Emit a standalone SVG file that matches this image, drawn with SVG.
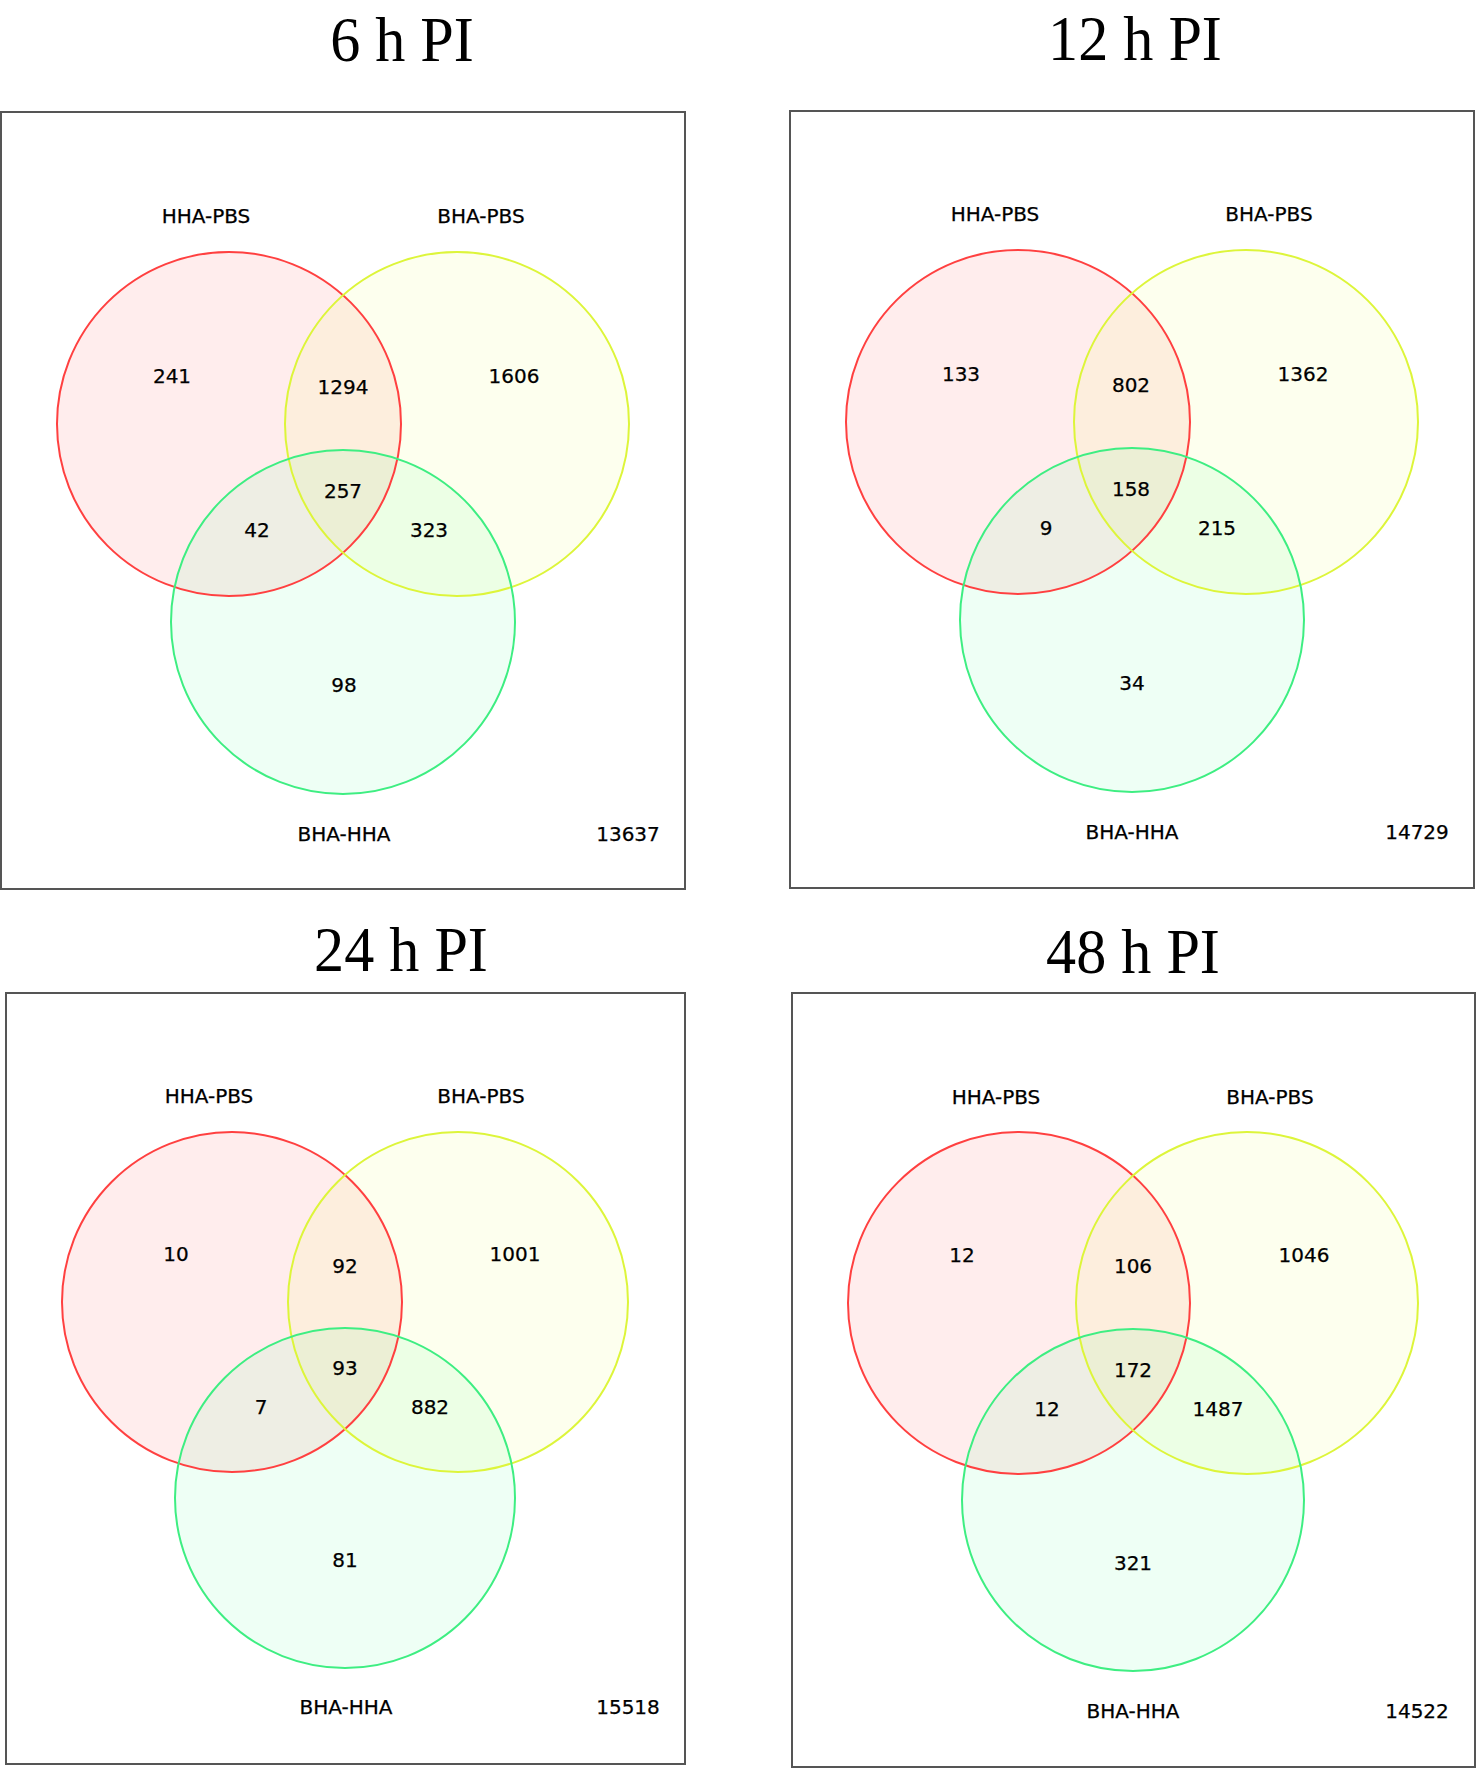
<svg xmlns="http://www.w3.org/2000/svg" width="1476" height="1770" viewBox="0 0 1476 1770">
<style>
.title{font-family:"Liberation Serif","Times New Roman",serif;font-size:64px;fill:#000;text-anchor:middle}
.t{font-family:"DejaVu Sans",Verdana,sans-serif;font-size:20px;fill:#000;stroke:#000;stroke-width:0.25;text-anchor:middle}
.box{fill:#fff;stroke:#555;stroke-width:2}
.fr{fill:#ff0000;fill-opacity:0.07;stroke:none}
.fy{fill:#dcff00;fill-opacity:0.065;stroke:none}
.fg{fill:#00ff66;fill-opacity:0.065;stroke:none}
.sr{fill:none;stroke:#ff4040;stroke-width:2}
.sy{fill:none;stroke:#ddf53a;stroke-width:2}
.sg{fill:none;stroke:#3eee82;stroke-width:2}
</style>
<rect x="0" y="0" width="1476" height="1770" fill="#fff"/>
<g id="connectors"></g>

<g id="panel-6h">
<text class="title" transform="translate(402 61) scale(0.94 1)">6 h PI</text>
<rect class="box" x="1" y="112" width="684" height="777"/>
<circle class="fr" cx="229" cy="424" r="172"/>
<circle class="fy" cx="457" cy="424" r="172"/>
<circle class="fg" cx="343" cy="622" r="172"/>
<circle class="sr" cx="229" cy="424" r="172"/>
<circle class="sy" cx="457" cy="424" r="172"/>
<circle class="sg" cx="343" cy="622" r="172"/>
<text class="t" x="206" y="223">HHA-PBS</text>
<text class="t" x="481" y="223">BHA-PBS</text>
<text class="t" x="172" y="383">241</text>
<text class="t" x="343" y="394">1294</text>
<text class="t" x="514" y="383">1606</text>
<text class="t" x="343" y="498">257</text>
<text class="t" x="257" y="537">42</text>
<text class="t" x="429" y="537">323</text>
<text class="t" x="344" y="692">98</text>
<text class="t" x="344" y="841">BHA-HHA</text>
<text class="t" x="628" y="841">13637</text>
</g>

<g id="panel-12h">
<text class="title" transform="translate(1135 60) scale(0.94 1)">12 h PI</text>
<rect class="box" x="790" y="111" width="684" height="777"/>
<circle class="fr" cx="1018" cy="422" r="172"/>
<circle class="fy" cx="1246" cy="422" r="172"/>
<circle class="fg" cx="1132" cy="620" r="172"/>
<circle class="sr" cx="1018" cy="422" r="172"/>
<circle class="sy" cx="1246" cy="422" r="172"/>
<circle class="sg" cx="1132" cy="620" r="172"/>
<text class="t" x="995" y="221">HHA-PBS</text>
<text class="t" x="1269" y="221">BHA-PBS</text>
<text class="t" x="961" y="381">133</text>
<text class="t" x="1131" y="392">802</text>
<text class="t" x="1303" y="381">1362</text>
<text class="t" x="1131" y="496">158</text>
<text class="t" x="1046" y="535">9</text>
<text class="t" x="1217" y="535">215</text>
<text class="t" x="1132" y="690">34</text>
<text class="t" x="1132" y="839">BHA-HHA</text>
<text class="t" x="1417" y="839">14729</text>
</g>

<g id="panel-24h">
<text class="title" transform="translate(401 971) scale(0.94 1)">24 h PI</text>
<rect class="box" x="6" y="993" width="679" height="771"/>
<circle class="fr" cx="232" cy="1302" r="170"/>
<circle class="fy" cx="458" cy="1302" r="170"/>
<circle class="fg" cx="345" cy="1498" r="170"/>
<circle class="sr" cx="232" cy="1302" r="170"/>
<circle class="sy" cx="458" cy="1302" r="170"/>
<circle class="sg" cx="345" cy="1498" r="170"/>
<text class="t" x="209" y="1103">HHA-PBS</text>
<text class="t" x="481" y="1103">BHA-PBS</text>
<text class="t" x="176" y="1261">10</text>
<text class="t" x="345" y="1273">92</text>
<text class="t" x="515" y="1261">1001</text>
<text class="t" x="345" y="1375">93</text>
<text class="t" x="261" y="1414">7</text>
<text class="t" x="430" y="1414">882</text>
<text class="t" x="345" y="1567">81</text>
<text class="t" x="346" y="1714">BHA-HHA</text>
<text class="t" x="628" y="1714">15518</text>
</g>

<g id="panel-48h">
<text class="title" transform="translate(1133 973) scale(0.94 1)">48 h PI</text>
<rect class="box" x="792" y="993" width="683" height="774"/>
<circle class="fr" cx="1019" cy="1303" r="171"/>
<circle class="fy" cx="1247" cy="1303" r="171"/>
<circle class="fg" cx="1133" cy="1500" r="171"/>
<circle class="sr" cx="1019" cy="1303" r="171"/>
<circle class="sy" cx="1247" cy="1303" r="171"/>
<circle class="sg" cx="1133" cy="1500" r="171"/>
<text class="t" x="996" y="1104">HHA-PBS</text>
<text class="t" x="1270" y="1104">BHA-PBS</text>
<text class="t" x="962" y="1262">12</text>
<text class="t" x="1133" y="1273">106</text>
<text class="t" x="1304" y="1262">1046</text>
<text class="t" x="1133" y="1377">172</text>
<text class="t" x="1047" y="1416">12</text>
<text class="t" x="1218" y="1416">1487</text>
<text class="t" x="1133" y="1570">321</text>
<text class="t" x="1133" y="1718">BHA-HHA</text>
<text class="t" x="1417" y="1718">14522</text>
</g>
</svg>
